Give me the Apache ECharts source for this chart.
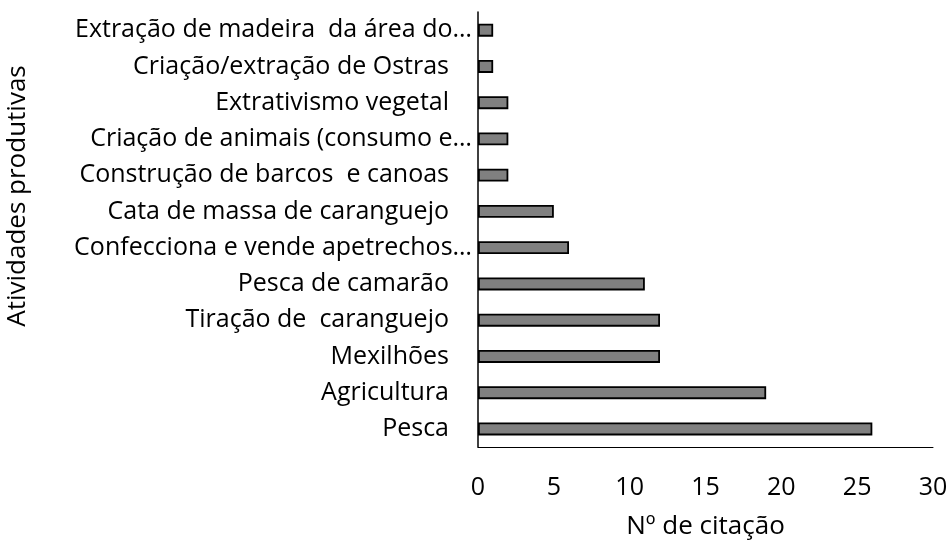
<!DOCTYPE html>
<html><head><meta charset="utf-8">
<script src="https://cdn.jsdelivr.net/npm/echarts@6/dist/echarts.min.js"></script>
<style>html,body{margin:0;padding:0;background:#fff}#c{width:952px;height:545px}</style>
</head><body><div id="c"></div>
<script>
const categories = [
  "Pesca",
  "Agricultura",
  "Mexilhões",
  "Tiração de  caranguejo",
  "Pesca de camarão",
  "Confecciona e vende apetrechos…",
  "Cata de massa de caranguejo",
  "Construção de barcos  e canoas",
  "Criação de animais (consumo e…",
  "Extrativismo vegetal",
  "Criação/extração de Ostras",
  "Extração de madeira  da área do…"
];
const values = [26, 19, 12, 12, 11, 6, 5, 2, 2, 2, 1, 1];
const xTicks = [0, 5, 10, 15, 20, 25, 30];
const xName = "Nº de citação";
const yName = "Atividades produtivas";

const font = "'Open Sans', sans-serif";
const fs = 25;
const chart = echarts.init(document.getElementById('c'));
chart.setOption({
  animation: false,
  grid: {left: 478, right: 19, top: 12, bottom: 95, containLabel: false},
  xAxis: {
    type: 'value', min: xTicks[0], max: xTicks[xTicks.length-1], interval: xTicks[1]-xTicks[0],
    splitLine: {show: false},
    axisLine: {show: true, lineStyle: {color: '#000', width: 1}},
    axisTick: {show: false},
    axisLabel: {color: '#000', fontSize: fs, fontFamily: font, margin: 28},
    name: xName, nameLocation: 'middle', nameGap: 67,
    nameTextStyle: {color: '#000', fontSize: 26, fontFamily: font}
  },
  yAxis: {
    type: 'category', data: categories,
    axisLine: {show: true, lineStyle: {color: '#000', width: 1.5}},
    axisTick: {show: false},
    axisLabel: {
      color: '#000', fontSize: fs, fontFamily: font, margin: 6,
      formatter: v => v.endsWith('…') ? v : '{p|' + v + '}',
      rich: {p: {fontSize: fs, fontFamily: font, color: '#000', padding: [0, 23, 0, 0]}}
    }
  },
  graphic: [{
    type: 'text', x: 18, y: 196, rotation: Math.PI / 2,
    style: {text: yName, fontSize: 26, fontFamily: font, fill: '#000', align: 'center', verticalAlign: 'middle'}
  }],
  series: [{
    type: 'bar', data: values, barWidth: 13,
    itemStyle: {color: '#808080', borderColor: '#000', borderWidth: 1.8}
  }]
});
</script></body></html>
